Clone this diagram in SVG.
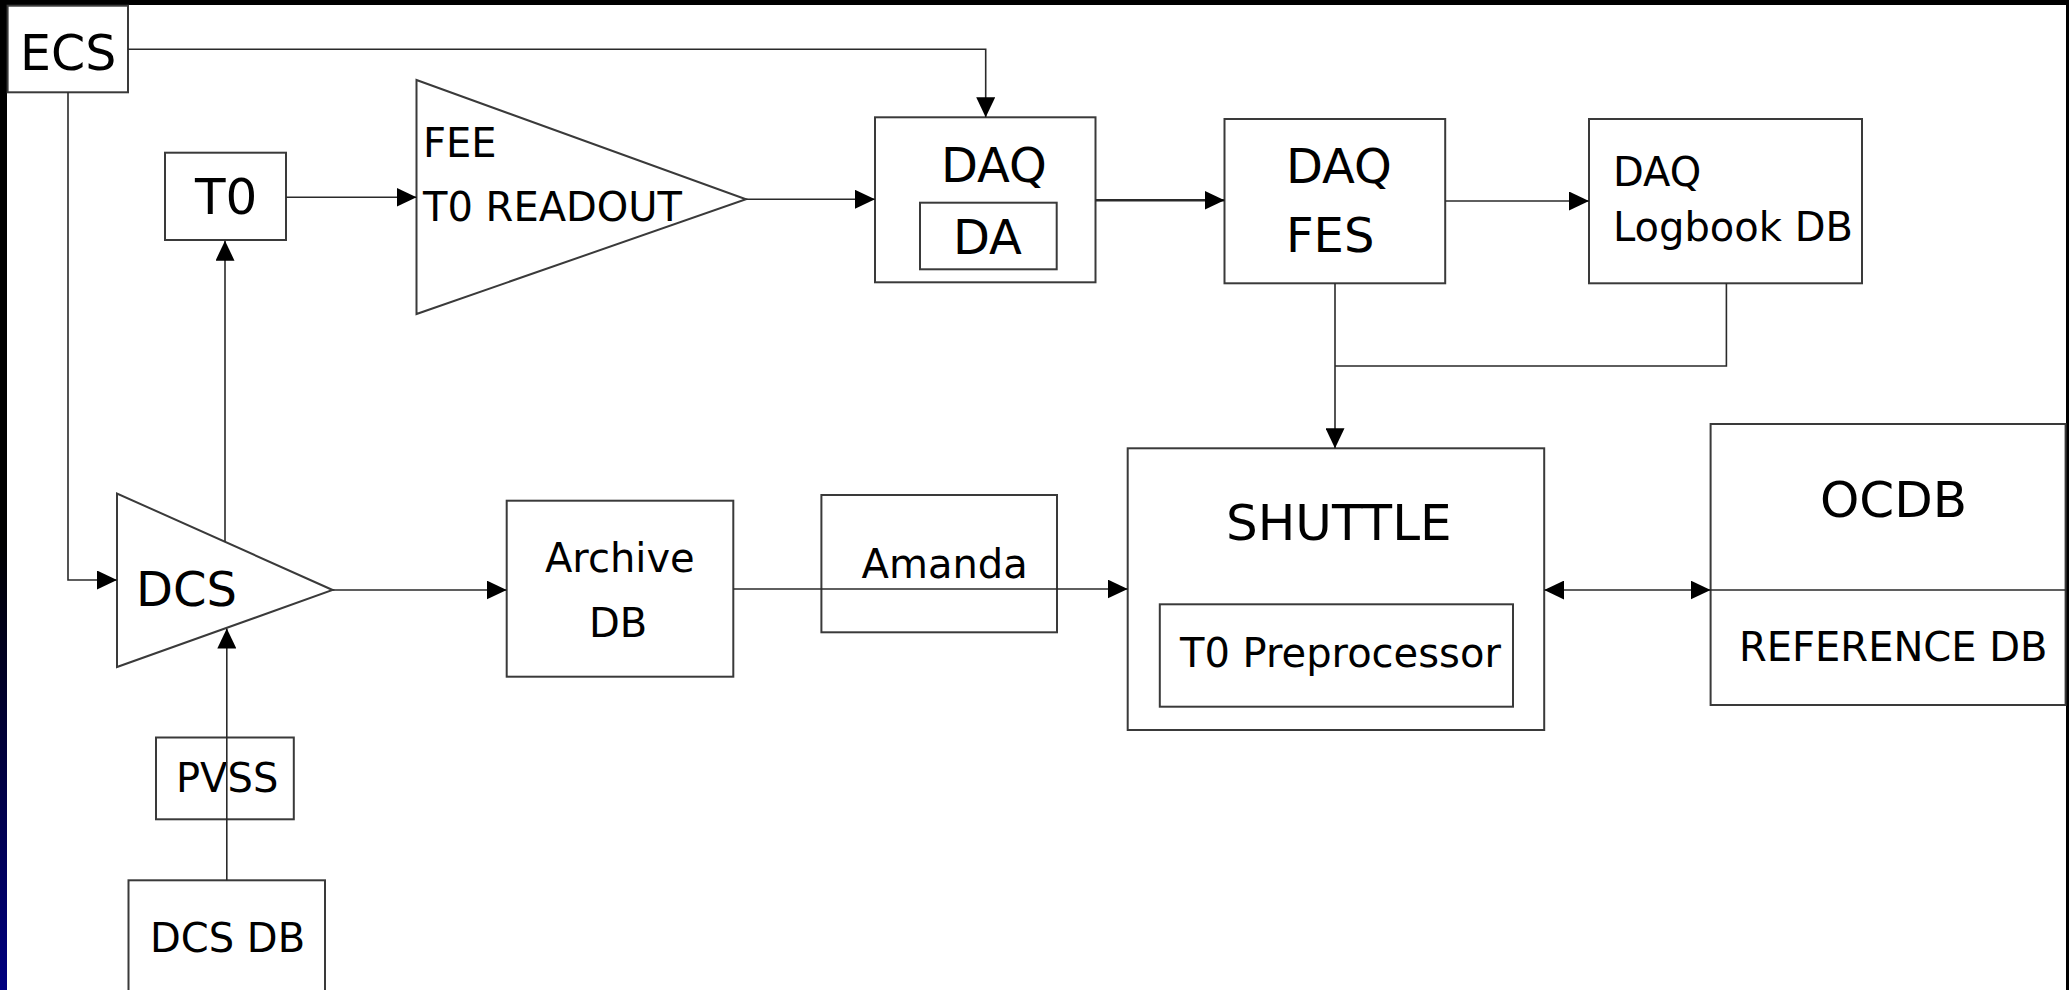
<svg xmlns="http://www.w3.org/2000/svg" width="2069" height="990" viewBox="0 0 2069 990">
<style>
.box{fill:#fff;stroke:#3a3a3a;stroke-width:2}
.line{fill:none;stroke:#2a2a2a;stroke-width:1.6}
.thick{stroke-width:2.6}
.t{font-family:"DejaVu Sans","Liberation Sans",sans-serif;fill:#000}
.f50{font-size:50px}
.f48{font-size:48px}
.f40{font-size:40px}
</style>
<defs>
<linearGradient id="edge" x1="0" y1="0" x2="0" y2="990" gradientUnits="userSpaceOnUse">
<stop offset="0" stop-color="#000"/>
<stop offset="0.55" stop-color="#000"/>
<stop offset="1" stop-color="#000080"/>
</linearGradient>
<marker id="arr" markerWidth="20" markerHeight="19" refX="20" refY="9.5" orient="auto-start-reverse" markerUnits="userSpaceOnUse">
<path d="M0,0 L20,9.5 L0,19 z" fill="#000"/>
</marker>
</defs>
<rect x="0" y="0" width="2069" height="990" fill="#fff"/>
<rect x="0" y="0" width="2069" height="5" fill="#000"/>
<rect x="2066" y="0" width="3" height="990" fill="#000"/>
<rect x="0" y="0" width="7" height="990" fill="url(#edge)"/>

<g id="ECS"><rect class="box" x="7.6" y="5.7" width="120.4" height="86.6"/><text class="t" x="20" y="70" font-size="49">ECS</text></g>
<g id="T0"><rect class="box" x="165" y="152.7" width="121" height="87.3"/><text class="t f50" x="195" y="214">T0</text></g>
<g id="FEE"><polygon class="box" points="416.5,80 416.5,314 746,199.3"/><text class="t f40" x="423" y="157">FEE</text><text class="t f40" x="423" y="221">T0 READOUT</text></g>
<g id="DAQ"><rect class="box" x="875" y="117.3" width="220.5" height="165"/><text class="t f48" x="941" y="182">DAQ</text><rect class="box" x="920" y="202.7" width="136.7" height="66.6"/><text class="t f48" x="953" y="254">DA</text></g>
<g id="FES"><rect class="box" x="1224.5" y="119" width="220.7" height="164.3"/><text class="t f48" x="1286" y="183">DAQ</text><text class="t f48" x="1286" y="252">FES</text></g>
<g id="Logbook"><rect class="box" x="1589" y="119" width="273" height="164.3"/><text class="t f40" x="1613" y="186">DAQ</text><text class="t f40" x="1613" y="241">Logbook DB</text></g>
<g id="DCS"><polygon class="box" points="117,493.5 117,667 332.6,590"/><text class="t f48" x="136" y="605.6">DCS</text></g>
<g id="Archive"><rect class="box" x="506.7" y="500.7" width="226.6" height="176"/><text class="t f40" x="545" y="571.7">Archive</text><text class="t f40" x="589" y="636.7">DB</text></g>
<g id="Amanda"><rect class="box" x="821.4" y="495" width="235.6" height="137.3"/><text class="t f40" x="861.6" y="578.3">Amanda</text></g>
<g id="SHUTTLE"><rect class="box" x="1127.7" y="448.3" width="416.5" height="281.7"/><text class="t f50" x="1226" y="540">SHUTTLE</text><rect class="box" x="1159.8" y="604.3" width="353.2" height="102.4"/><text class="t f40" x="1180" y="666.7">T0 Preprocessor</text></g>
<g id="OCDB"><rect class="box" x="1710.6" y="424" width="355" height="281"/><line class="line" x1="1710.6" y1="590" x2="2065.6" y2="590"/><text class="t f50" x="1820" y="516.7">OCDB</text><text class="t f40" x="1739" y="661">REFERENCE DB</text></g>
<g id="PVSS"><rect class="box" x="156" y="737.5" width="137.8" height="81.8"/><text class="t f40" x="176" y="791.5">PVSS</text></g>
<g id="DCSDB"><rect class="box" x="128.5" y="880.3" width="196.5" height="130"/><text class="t f40" x="150" y="952">DCS DB</text></g>

<g id="connectors">
<path class="line" d="M128,49.3 H985.7 V117.3" marker-end="url(#arr)"/>
<path class="line" d="M68,92.3 V580 H117" marker-end="url(#arr)"/>
<path class="line" d="M286,197.3 H416.5" marker-end="url(#arr)"/>
<path class="line" d="M225,541.5 V240.7" marker-end="url(#arr)"/>
<path class="line" d="M746,199.3 H875" marker-end="url(#arr)"/>
<path class="line thick" d="M1095.5,200.3 H1224.5" marker-end="url(#arr)"/>
<path class="line" d="M1445.2,201 H1589" marker-end="url(#arr)"/>
<path class="line" d="M1335,283.3 V448.3" marker-end="url(#arr)"/>
<path class="line" d="M1726.4,283.3 V366 H1335"/>
<path class="line" d="M332.6,590 H506.7" marker-end="url(#arr)"/>
<path class="line" d="M733.3,589 H1127.7" marker-end="url(#arr)"/>
<path class="line" d="M1544.2,590 H1710.6" marker-start="url(#arr)" marker-end="url(#arr)"/>
<path class="line" d="M226.8,880.3 V628.5" marker-end="url(#arr)"/>
</g>
</svg>
